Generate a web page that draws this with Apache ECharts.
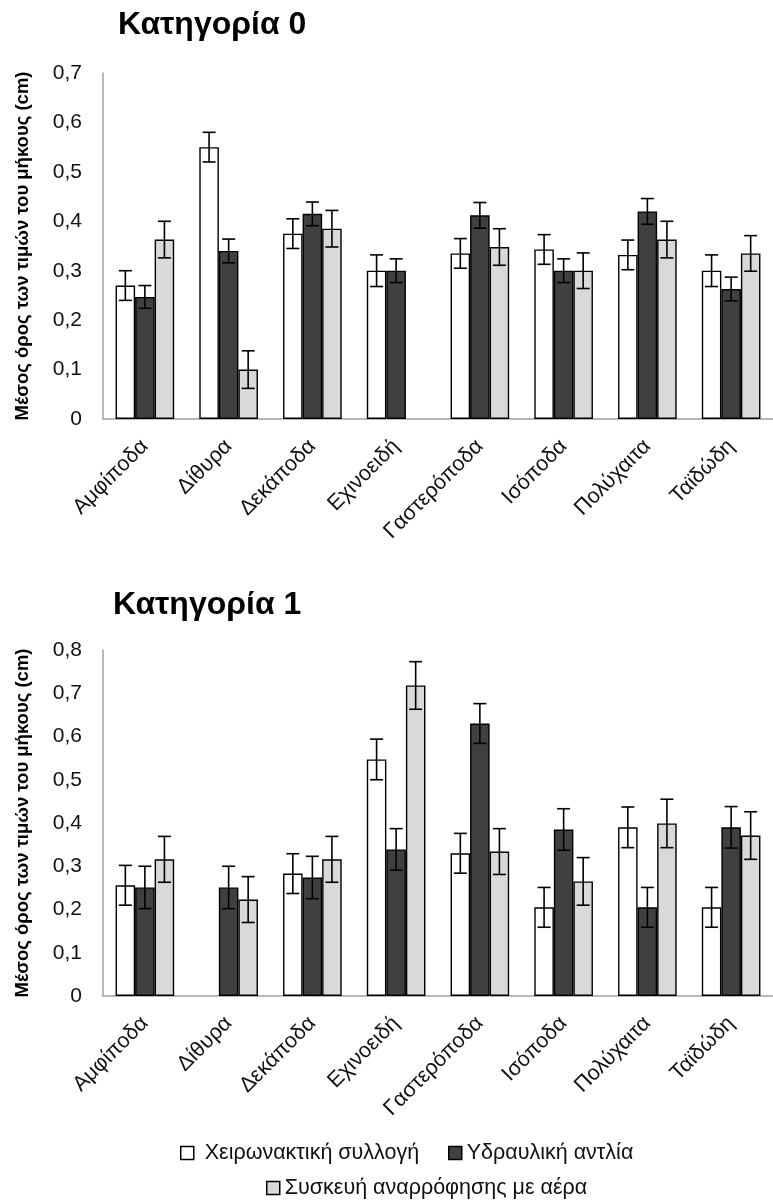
<!DOCTYPE html>
<html>
<head>
<meta charset="utf-8">
<script src="https://cdn.jsdelivr.net/npm/echarts@6/dist/echarts.min.js"></script>
<style>html,body{margin:0;padding:0;background:#fff}#c{width:773px;height:1200px}</style>
</head>
<body>
<div id="c"></div>
<script>
const categories = ['Αμφίποδα','Δίθυρα','Δεκάποδα','Εχινοειδή','Γαστερόποδα','Ισόποδα','Πολύχαιτα','Ταϊδώδη'];
const seriesNames = ['Χειρωνακτική συλλογή','Υδραυλική αντλία','Συσκευή αναρρόφησης με αέρα'];
const titles = ['Κατηγορία 0','Κατηγορία 1'];
const yAxisName = 'Μέσος όρος των τιμών του μήκους (cm)';

// Κατηγορία 0
const cat0Manual = [0.27, 0.55, 0.375, 0.30, 0.335, 0.343, 0.332, 0.30];
const cat0ManualErr = [0.03, 0.03, 0.03, 0.032, 0.03, 0.03, 0.03, 0.032];
const cat0Pump = [0.247, 0.34, 0.415, 0.30, 0.412, 0.30, 0.42, 0.263];
const cat0PumpErr = [0.023, 0.024, 0.024, 0.024, 0.026, 0.024, 0.026, 0.024];
const cat0Air = [0.363, 0.10, 0.385, null, 0.348, 0.30, 0.363, 0.335];
const cat0AirErr = [0.037, 0.038, 0.037, null, 0.037, 0.036, 0.037, 0.036];

// Κατηγορία 1
const cat1Manual = [0.256, null, 0.283, 0.547, 0.33, 0.205, 0.39, 0.205];
const cat1ManualErr = [0.046, null, 0.046, 0.047, 0.046, 0.046, 0.047, 0.046];
const cat1Pump = [0.251, 0.251, 0.274, 0.339, 0.63, 0.385, 0.205, 0.39];
const cat1PumpErr = [0.049, 0.049, 0.049, 0.048, 0.046, 0.048, 0.046, 0.048];
const cat1Air = [0.316, 0.223, 0.316, 0.718, 0.334, 0.265, 0.399, 0.371];
const cat1AirErr = [0.053, 0.053, 0.053, 0.055, 0.053, 0.055, 0.056, 0.055];

const yTicks0 = {min: 0, max: 0.7, interval: 0.1};
const yTicks1 = {min: 0, max: 0.8, interval: 0.1};

const colors = ['#ffffff', '#404040', '#d9d9d9'];
const FONT = 'Liberation Sans, Arial, sans-serif';

function errRenderer(k) {
  return function (params, api) {
    const ci = api.value(0), v = api.value(1), e = api.value(2);
    const band = api.size([1, 0])[0];
    const bw = band * 0.7 / 3;
    const x = api.coord([ci, v])[0] + (k - 1) * bw;
    const yT = api.coord([ci, v + e])[1];
    const yB = api.coord([ci, v - e])[1];
    const cap = 6.5;
    const st = {stroke: '#000', lineWidth: 1.6};
    return {type: 'group', children: [
      {type: 'line', shape: {x1: x, y1: yT, x2: x, y2: yB}, style: st},
      {type: 'line', shape: {x1: x - cap, y1: yT, x2: x + cap, y2: yT}, style: st},
      {type: 'line', shape: {x1: x - cap, y1: yB, x2: x + cap, y2: yB}, style: st}
    ]};
  };
}

function errData(vals, errs) {
  const out = [];
  vals.forEach((v, i) => { if (v != null && errs[i] != null) out.push([i, v, errs[i]]); });
  return out;
}

const groups = [
  {vals: [cat0Manual, cat0Pump, cat0Air], errs: [cat0ManualErr, cat0PumpErr, cat0AirErr]},
  {vals: [cat1Manual, cat1Pump, cat1Air], errs: [cat1ManualErr, cat1PumpErr, cat1AirErr]}
];

const series = [];
groups.forEach((g, gi) => {
  g.vals.forEach((vals, k) => {
    series.push({
      name: seriesNames[k], type: 'bar', xAxisIndex: gi, yAxisIndex: gi,
      data: vals.map(v => v == null ? '-' : v),
      barGap: '0%', barCategoryGap: '30%',
      itemStyle: {color: colors[k], borderColor: '#000', borderWidth: 1.4},
      emphasis: {disabled: true}, z: 2
    });
  });
  g.vals.forEach((vals, k) => {
    series.push({
      type: 'custom', xAxisIndex: gi, yAxisIndex: gi,
      renderItem: errRenderer(k), data: errData(vals, g.errs[k]),
      encode: {x: 0, y: 1}, z: 5, silent: true
    });
  });
});

function yAxis(gi, t) {
  return {
    type: 'value', gridIndex: gi, min: t.min, max: t.max, interval: t.interval,
    name: yAxisName, nameLocation: 'middle', nameGap: 71, nameRotate: 90,
    nameTextStyle: {fontFamily: FONT, fontWeight: 'bold', fontSize: 18.5, color: '#000'},
    axisLine: {show: true, lineStyle: {color: '#a0a0a0', width: 1.5}},
    axisTick: {show: false}, splitLine: {show: false},
    axisLabel: {fontFamily: FONT, fontSize: 21, color: '#111', margin: 21,
      formatter: v => (Math.round(v * 10) / 10).toString().replace('.', ',')}
  };
}
function xAxis(gi) {
  return {
    type: 'category', gridIndex: gi, data: categories,
    axisLine: {show: true, lineStyle: {color: '#a0a0a0', width: 1.5}},
    axisTick: {show: false},
    axisLabel: {fontFamily: FONT, fontSize: 21.5, color: '#111', rotate: 45, interval: 0, margin: 24}
  };
}

const legendText = {fontFamily: FONT, fontSize: 21.5, color: '#111'};
const legendBase = {itemWidth: 13, itemHeight: 13, icon: 'rect', textStyle: legendText, selectedMode: false, padding: 0,
  itemStyle: {borderColor: '#000', borderWidth: 1.5}};

const chart = echarts.init(document.getElementById('c'), null, {renderer: 'canvas'});
chart.setOption({
  animation: false,
  backgroundColor: '#fff',
  title: [
    {text: titles[0], left: 118, top: 9, padding: 0, textStyle: {fontFamily: FONT, fontWeight: 'bold', fontSize: 32, color: '#000'}},
    {text: titles[1], left: 113, top: 589, padding: 0, textStyle: {fontFamily: FONT, fontWeight: 'bold', fontSize: 32, color: '#000'}}
  ],
  grid: [
    {left: 103, top: 73, width: 677, height: 346, containLabel: false},
    {left: 103, top: 650, width: 672, height: 346, containLabel: false}
  ],
  xAxis: [xAxis(0), xAxis(1)],
  yAxis: [yAxis(0, yTicks0), yAxis(1, yTicks1)],
  legend: [
    Object.assign({}, legendBase, {data: [seriesNames[0]], left: 180, top: 1142, formatter: ' {name}'}),
    Object.assign({}, legendBase, {data: [seriesNames[1]], left: 448, top: 1142}),
    Object.assign({}, legendBase, {data: [seriesNames[2]], left: 266, top: 1177})
  ],
  series: series
});
</script>
</body>
</html>
